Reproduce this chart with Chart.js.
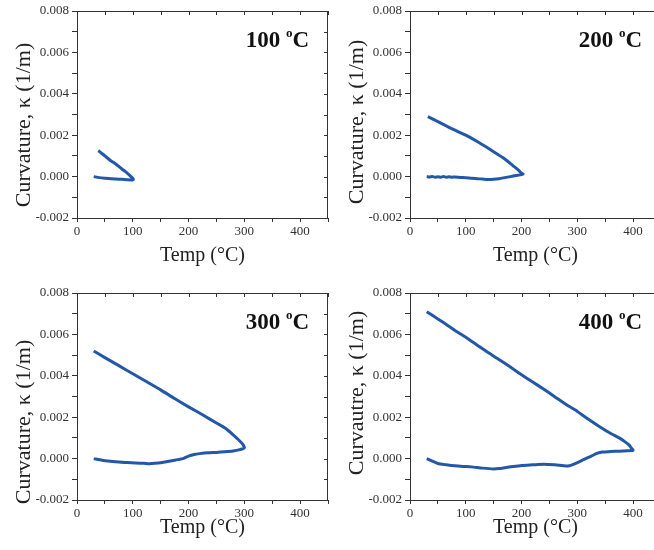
<!DOCTYPE html>
<html>
<head>
<meta charset="utf-8">
<script src="https://cdn.jsdelivr.net/npm/chart.js@4"></script>
<style>
  html, body { margin: 0; padding: 0; background: #fff; overflow: hidden; }
  body { width: 654px; height: 550px; position: relative; }
  .panel { position: absolute; width: 330px; height: 270px; }
</style>
</head>
<body>
<div class="panel" style="left:0;top:0"><canvas id="c100" width="330" height="270"></canvas></div>
<div class="panel" style="left:333px;top:0"><canvas id="c200" width="330" height="270"></canvas></div>
<div class="panel" style="left:0;top:282px"><canvas id="c300" width="330" height="270"></canvas></div>
<div class="panel" style="left:333px;top:282px"><canvas id="c400" width="330" height="270"></canvas></div>
<script>
// Curvature vs temperature, heating branch then cooling branch

const xTickLabels = ['0', '100', '200', '300', '400'];
const yTickLabels = ['-0.002', '0.000', '0.002', '0.004', '0.006', '0.008'];

const panelLabels = ['100', '200', '300', '400'];
const yTitles = ['Curvature, κ (1/m)', 'Curvature, κ (1/m)', 'Curvature, κ (1/m)', 'Curvautre, κ (1/m)'];

// 100 C
const temp100 = [30, 40, 50, 60, 70, 80, 90, 100, 101, 100, 95, 90, 80, 70, 60, 50, 40, 38];
const curv100 = [0.0, -0.00005, -0.00008, -0.0001, -0.00012, -0.00013, -0.00015, -0.00016, -0.00013,
  -0.00008, 0.00005, 0.00017, 0.00038, 0.0006, 0.00078, 0.001, 0.00122, 0.00125];

// 200 C
const temp200 = [30, 35, 40, 45, 50, 55, 60, 65, 70, 75, 80, 90, 100, 110, 120, 130, 140, 150, 160, 170, 180, 190, 200, 203,
  200, 195, 185, 170, 150, 125, 100, 70, 50, 32];
const curv200 = [0.0, -0.00002, 0.0, -0.00003, -0.00001, -0.00003, 0.0, -0.00003, -0.00001, -0.00003, -0.00002, -0.00004,
  -0.00005, -0.00008, -0.0001, -0.00012, -0.00014, -0.00013, -0.0001, -0.00005, 0.0, 0.00005, 0.0001, 0.00013,
  0.00016, 0.0003, 0.00052, 0.00085, 0.0012, 0.00162, 0.002, 0.00238, 0.00266, 0.0029];

// 300 C
const temp300 = [30, 45, 60, 75, 90, 105, 120, 130, 140, 150, 160, 170, 180, 190, 200, 210, 220, 235, 250, 265, 280, 290, 300,
  297, 290, 280, 270, 264, 250, 225, 200, 175, 150, 125, 100, 75, 50, 30];
const curv300 = [0.0, -0.00008, -0.00013, -0.00017, -0.00019, -0.00021, -0.00023, -0.00025, -0.00023, -0.0002, -0.00015,
  -0.0001, -0.00005, 0.0, 0.00012, 0.0002, 0.00024, 0.00028, 0.0003, 0.00033, 0.00037, 0.00042, 0.00052,
  0.0007, 0.0009, 0.00115, 0.00138, 0.0015, 0.00172, 0.00212, 0.0025, 0.0029, 0.00332, 0.00371, 0.0041, 0.00449, 0.00488, 0.0052];

// 400 C
const temp400 = [30, 40, 50, 65, 80, 95, 110, 130, 150, 160, 170, 185, 200, 220, 240, 260, 275, 285, 295, 305, 315, 325, 335, 345,
  360, 375, 390, 400, 397, 393, 385, 375, 360, 340, 320, 300, 280, 260, 240, 220, 200, 180, 160, 140, 120, 100, 80, 60, 40, 30];
const curv400 = [0.0, -0.00012, -0.00024, -0.0003, -0.00035, -0.00038, -0.0004, -0.00046, -0.0005, -0.00048, -0.00044,
  -0.00038, -0.00033, -0.0003, -0.00027, -0.0003, -0.00034, -0.00035, -0.00025, -0.00013, 0.0, 0.00012, 0.00025, 0.00032,
  0.00034, 0.00036, 0.00038, 0.0004, 0.0005, 0.00065, 0.00082, 0.001, 0.00121, 0.00154, 0.0019, 0.00228, 0.00261,
  0.00298, 0.00335, 0.0037, 0.00405, 0.00442, 0.00478, 0.00512, 0.00549, 0.00586, 0.0062, 0.00657, 0.00692, 0.0071];

const LINE = '#2357a8';
const AXIS = '#333';
const SERIF = '"Liberation Serif", "Times New Roman", serif';

// frame, inner ticks on top/right, rotated y title and the panel label
const panelDecor = {
    id: 'panelDecor',
    afterDraw(chart, args, opts) {
        const { ctx, chartArea: a, scales } = chart;
        ctx.save();
        ctx.strokeStyle = AXIS;
        ctx.lineWidth = 1;
        ctx.beginPath();
        ctx.moveTo(a.left, a.top + 0.5);
        ctx.lineTo(a.right - 0.5, a.top + 0.5);
        ctx.lineTo(a.right - 0.5, a.bottom);
        ctx.stroke();
        ctx.beginPath();
        scales.x.ticks.forEach(t => {
            const px = Math.round(scales.x.getPixelForValue(t.value)) + 0.5;
            ctx.moveTo(px, a.top);
            ctx.lineTo(px, a.top + 4);
        });
        scales.y.ticks.forEach(t => {
            const py = Math.round(scales.y.getPixelForValue(t.value)) + 0.5;
            ctx.moveTo(a.right, py);
            ctx.lineTo(a.right - 4, py);
        });
        ctx.stroke();

        ctx.fillStyle = '#222';
        ctx.translate(opts.yTitleX, opts.yTitleY);
        ctx.rotate(-Math.PI / 2);
        ctx.font = '22px ' + SERIF;
        ctx.textAlign = 'center';
        ctx.textBaseline = 'middle';
        ctx.fillText(opts.yTitle, 0, 0);
        ctx.setTransform(1, 0, 0, 1, 0, 0);

        // "100 oC" with a raised small o
        const x = a.right - 19, y = a.top + 36;
        ctx.fillStyle = '#111';
        ctx.textBaseline = 'alphabetic';
        ctx.textAlign = 'left';
        ctx.font = 'bold 23px ' + SERIF;
        const wNum = ctx.measureText(opts.label + ' ').width;
        const wC = ctx.measureText('C').width;
        ctx.font = 'bold 13px ' + SERIF;
        const wO = ctx.measureText('o').width;
        const x0 = x - wC - wO - wNum;
        ctx.font = 'bold 23px ' + SERIF;
        ctx.fillText(opts.label + ' ', x0, y);
        ctx.fillText('C', x - wC, y);
        ctx.font = 'bold 13px ' + SERIF;
        ctx.fillText('o', x0 + wNum, y - 10);
        ctx.restore();
    }
};

function tickText(labels, value) {
    const hit = labels.find(l => Math.abs(Number(l) - value) < 1e-9);
    return hit === undefined ? '' : hit;
}

function createPanel(id, temps, curvs, label, yTitle, xTitlePad, yTitleY) {
    const ctx = document.getElementById(id);
    const points = temps.map((t, i) => ({ x: t, y: curvs[i] }));
    return new Chart(ctx, {
        type: 'scatter',
        data: {
            datasets: [{
                data: points,
                showLine: true,
                borderColor: LINE,
                borderWidth: 3,
                pointRadius: 0,
                tension: 0.2,
                fill: false
            }]
        },
        options: {
            responsive: false,
            animation: false,
            devicePixelRatio: 1,
            layout: { padding: { left: 0, top: 11, right: 1, bottom: 0 } },
            plugins: {
                legend: { display: false },
                tooltip: { enabled: false },
                panelDecor: { label: label, yTitle: yTitle, yTitleX: 24, yTitleY: yTitleY }
            },
            scales: {
                x: {
                    type: 'linear',
                    min: 0,
                    max: 450,
                    afterFit: s => { s.height = 52; },
                    border: { color: AXIS, width: 1 },
                    grid: { drawOnChartArea: false, drawTicks: true, tickLength: 4, color: AXIS },
                    ticks: {
                        stepSize: 50,
                        autoSkip: false,
                        maxRotation: 0,
                        padding: 2,
                        color: '#333',
                        font: { family: SERIF, size: 13 },
                        callback: v => tickText(xTickLabels, v)
                    },
                    title: {
                        display: true,
                        text: 'Temp (°C)',
                        color: '#222',
                        font: { family: SERIF, size: 20 },
                        padding: { top: 0, bottom: xTitlePad }
                    }
                },
                y: {
                    type: 'linear',
                    min: -0.002,
                    max: 0.008,
                    afterFit: s => { s.width = 77; },
                    border: { color: AXIS, width: 1 },
                    grid: { drawOnChartArea: false, drawTicks: true, tickLength: 5, color: AXIS },
                    ticks: {
                        stepSize: 0.001,
                        autoSkip: false,
                        padding: 3,
                        color: '#333',
                        font: { family: SERIF, size: 13 },
                        callback: v => tickText(yTickLabels, v)
                    }
                }
            }
        },
        plugins: [panelDecor]
    });
}

createPanel('c100', temp100, curv100, panelLabels[0], yTitles[0], 2, 125);
createPanel('c200', temp200, curv200, panelLabels[1], yTitles[1], 2, 122);
createPanel('c300', temp300, curv300, panelLabels[2], yTitles[2], 12, 140);
createPanel('c400', temp400, curv400, panelLabels[3], yTitles[3], 12, 111);
</script>
</body>
</html>
